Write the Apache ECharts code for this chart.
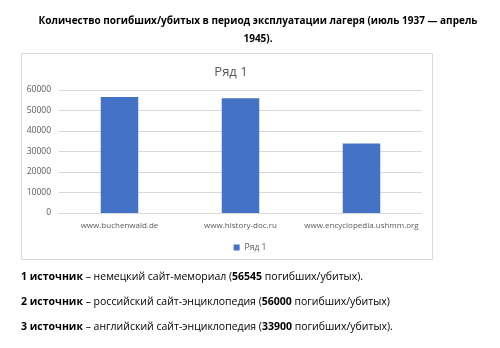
<!DOCTYPE html>
<html><head><meta charset="utf-8">
<script src="https://cdn.jsdelivr.net/npm/echarts@6/dist/echarts.min.js"></script>
<style>html,body{margin:0;padding:0;background:#fff}#c{width:500px;height:348px}</style>
</head><body><div id="c"></div>
<script>
var categories = ['www.buchenwald.de', 'www.history-doc.ru', 'www.encyclopedia.ushmm.org'];
var seriesName = 'Ряд 1';
var values = [56545, 56000, 33900];
var yTicks = [0, 10000, 20000, 30000, 40000, 50000, 60000];
var sourceLabels = ['1 источник', '2 источник', '3 источник'];
var sourceDescs = ['немецкий сайт-мемориал', 'российский сайт-энциклопедия', 'английский сайт-энциклопедия'];
var sourceEnds = [' погибших/убитых).', ' погибших/убитых)', ' погибших/убитых).'];
var titleText = 'Количество погибших/убитых в период эксплуатации лагеря (июль 1937 — апрель\n1945).';

var chart = echarts.init(document.getElementById('c'), null, {renderer: 'canvas'});
var font = '"Open Sans", "Noto Sans", sans-serif';
var graphics = [
  {type: 'rect', shape: {x: 21.5, y: 53.5, width: 411, height: 206}, style: {fill: 'none', stroke: '#d9d9d9', lineWidth: 1}, z: -1},
  {type: 'text', x: 258, y: 12, style: {text: titleText, font: 'bold 10px ' + font, fill: '#000', align: 'center', lineHeight: 18}}
];
var rows = [280, 305, 330];
for (var i = 0; i < values.length; i++) {
  graphics.push({type: 'text', left: 21, top: rows[i] - 8, style: {
    text: '{b|' + sourceLabels[i] + '}{n| – ' + sourceDescs[i] + ' (}{b|' + values[i] + '}{n|' + sourceEnds[i] + '}',
    rich: {b: {font: 'bold 10.5px ' + font, fill: '#000'}, n: {font: '10.5px ' + font, fill: '#000'}}
  }});
}
chart.setOption({
  animation: false,
  title: {text: seriesName, left: 226, top: 61, textAlign: 'center', textStyle: {fontFamily: font, fontSize: 13, fontWeight: 'normal', color: '#595959'}},
  legend: {data: [seriesName], left: 'center', top: 238, itemWidth: 6, itemHeight: 6, icon: 'rect', textStyle: {fontFamily: font, fontSize: 8.5, color: '#595959'}},
  grid: {left: 59, right: 78, top: 90, bottom: 135},
  xAxis: {type: 'category', data: categories, axisLine: {lineStyle: {color: '#d9d9d9'}}, axisTick: {show: false},
    axisLabel: {fontFamily: font, fontSize: 8, color: '#595959', margin: 9, interval: 0}},
  yAxis: {type: 'value', min: yTicks[0], max: yTicks[yTicks.length - 1], interval: 10000,
    axisLine: {show: false}, axisTick: {show: false},
    splitLine: {lineStyle: {color: '#d9d9d9'}},
    axisLabel: {fontFamily: font, fontSize: 8.5, color: '#595959', margin: 8, formatter: function (v) { return String(v); }}},
  series: [{name: seriesName, type: 'bar', data: values, barWidth: '31%', itemStyle: {color: '#4472C4'}}],
  graphic: graphics
});
</script></body></html>
